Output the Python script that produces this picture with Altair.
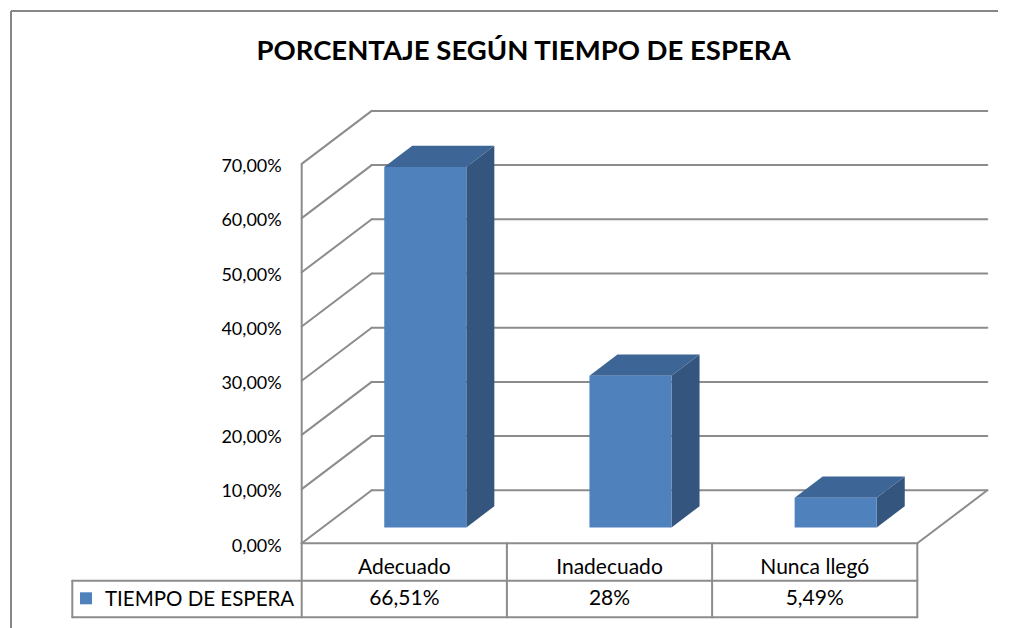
import altair as alt
import pandas as pd

# ---------------- data ----------------
categories = ["Adecuado", "Inadecuado", "Nunca llegó"]
values = [66.51, 28.0, 5.49]
value_labels = ["66,51%", "28%", "5,49%"]
tick_values = [0, 10, 20, 30, 40, 50, 60, 70]
tick_labels = ["0,00%", "10,00%", "20,00%", "30,00%", "40,00%", "50,00%", "60,00%", "70,00%"]
series_name = "TIEMPO DE ESPERA"
chart_title = "PORCENTAJE SEGÚN TIEMPO DE ESPERA"

# ---------------- layout / style ----------------
W, H = 990, 620           # view size
MARGIN = 8                # page margin
UX = 205.2                # px per category slot
UY = 5.42                 # px per percentage point
OX, OY = 293.7, 535.3     # where (slot 0, 0%) sits inside the view
DX, DY = 70 / UX, 53 / UY # depth vector of the 3-D walls
BAR_W = 0.4               # bar width as share of a slot
BAR_D0, BAR_D1 = 0.3, 0.7 # bar depth span as share of the wall depth

FRONT, SIDE, TOP = "#4F81BD", "#34557E", "#3D6595"
GRID, BORDER = "#8C8C8C", "#878787"
FONT = "Lato"


def vx(px):
    return (px - MARGIN - OX) / UX


def vy(py):
    return (OY - (py - MARGIN)) / UY


xs = alt.Scale(domain=[vx(MARGIN), vx(MARGIN + W)], nice=False, zero=False)
ys = alt.Scale(domain=[vy(MARGIN + H), vy(MARGIN)], nice=False, zero=False)


def X(f="x"):
    return alt.X(f"{f}:Q", scale=xs, axis=None)


def Y(f="y"):
    return alt.Y(f"{f}:Q", scale=ys, axis=None, stack=False)


n = len(categories)

# ---- walls, gridlines and floor ----
segs = []
for t in tick_values:
    segs.append(dict(x=0, y=t, x2=DX, y2=t + DY))
    segs.append(dict(x=DX, y=t + DY, x2=n + DX, y2=t + DY))
segs.append(dict(x=0, y=0, x2=0, y2=max(tick_values)))
segs.append(dict(x=n, y=0, x2=n + DX, y2=DY))

# ---- data table lines ----
ROW1 = -37.4 / UY
ROW2 = -74.0 / UY
LEG_LEFT = vx(72.3)
segs += [
    dict(x=0, y=0, x2=n, y2=0),
    dict(x=LEG_LEFT, y=ROW1, x2=n, y2=ROW1),
    dict(x=LEG_LEFT, y=ROW2, x2=n, y2=ROW2),
    dict(x=LEG_LEFT, y=ROW1, x2=LEG_LEFT, y2=ROW2),
] + [dict(x=i, y=0, x2=i, y2=ROW2) for i in range(n + 1)]
seg_df = pd.DataFrame(segs)

# ---- outer chart-area border (only top and left are inside the frame) ----
border_df = pd.DataFrame([
    dict(x=vx(11), y=vy(11), x2=vx(MARGIN + W + 20), y2=vy(11)),
    dict(x=vx(11), y=vy(11), x2=vx(11), y2=vy(MARGIN + H + 20)),
])

# ---- bars ----
front_rows, side_rows, top_rows = [], [], []
bdx, bdy = (BAR_D1 - BAR_D0) * DX, (BAR_D1 - BAR_D0) * DY
for i, (c, v) in enumerate(zip(categories, values)):
    xl = i + (1 - BAR_W) / 2 + BAR_D0 * DX
    xr = xl + BAR_W
    y0 = BAR_D0 * DY
    front_rows.append(dict(cat=c, x=xl, x2=xr, y=y0, y2=v + y0))
    side_rows.append(dict(cat=c, x=xr, y=y0, y2=v + y0))
    side_rows.append(dict(cat=c, x=xr + bdx, y=y0 + bdy, y2=v + y0 + bdy))
    top_rows.append(dict(cat=c, y=v + y0, x=xl, x2=xr))
    top_rows.append(dict(cat=c, y=v + y0 + bdy, x=xl + bdx, x2=xr + bdx))
front_df = pd.DataFrame(front_rows)
side_df = pd.DataFrame(side_rows)
top_df = pd.DataFrame(top_rows)

# ---- texts ----
tick_df = pd.DataFrame(dict(x=[0] * len(tick_values), y=tick_values, label=tick_labels))
cat_df = pd.DataFrame(dict(x=[i + 0.5 for i in range(n)], y=[vy(574)] * n, label=categories))
val_df = pd.DataFrame(dict(x=[i + 0.5 for i in range(n)], y=[vy(605)] * n, label=value_labels))
leg_df = pd.DataFrame(dict(x=[vx(105)], y=[vy(605.5)], label=[series_name]))
sq_df = pd.DataFrame(dict(x=[vx(86)], y=[vy(598.3)]))
title_df = pd.DataFrame(dict(x=[vx(523.5)], y=[vy(59.5)], label=[chart_title]))

border = alt.Chart(border_df).mark_rule(color=BORDER, strokeWidth=2).encode(
    x=X(), x2="x2:Q", y=Y(), y2="y2:Q"
)

lines = alt.Chart(seg_df).mark_rule(color=GRID, strokeWidth=2, strokeCap="round").encode(
    x=X(), x2="x2:Q", y=Y(), y2="y2:Q"
)

side = alt.Chart(side_df).mark_area(color=SIDE, opacity=1).encode(
    x=X(), y=Y(), y2="y2:Q", detail="cat:N"
)
top = alt.Chart(top_df).mark_area(color=TOP, opacity=1, orient="horizontal").encode(
    y=Y(), x=alt.X("x:Q", scale=xs, axis=None, stack=False), x2="x2:Q", detail="cat:N"
)
front = alt.Chart(front_df).mark_rect(color=FRONT).encode(
    x=X(), x2="x2:Q", y=Y(), y2="y2:Q"
)

tick_text = alt.Chart(tick_df).mark_text(
    align="right", baseline="alphabetic", dx=-20, dy=8.3, fontSize=18, font=FONT, color="#000000"
).encode(x=X(), y=Y(), text="label:N")

cat_text = alt.Chart(cat_df).mark_text(
    align="center", baseline="alphabetic", fontSize=21, font=FONT, color="#000000"
).encode(x=X(), y=Y(), text="label:N")

val_text = alt.Chart(val_df).mark_text(
    align="center", baseline="alphabetic", fontSize=21, font=FONT, color="#000000"
).encode(x=X(), y=Y(), text="label:N")

leg_text = alt.Chart(leg_df).mark_text(
    align="left", baseline="alphabetic", fontSize=20.5, font=FONT, color="#000000"
).encode(x=X(), y=Y(), text="label:N")

leg_sq = alt.Chart(sq_df).mark_square(size=144, color=FRONT, opacity=1).encode(x=X(), y=Y())

title_text = alt.Chart(title_df).mark_text(
    align="center", baseline="alphabetic", fontSize=27.5, fontWeight="bold", font=FONT, color="#000000"
).encode(x=X(), y=Y(), text="label:N")

chart = alt.layer(
    border, lines, side, top, front,
    tick_text, cat_text, val_text, leg_text, leg_sq, title_text
).properties(
    width=W, height=H, autosize="none", padding=0, background="white"
).configure_view(stroke=None, strokeWidth=0)

chart.save("out.html", embed_options={"renderer": "svg", "actions": False})
